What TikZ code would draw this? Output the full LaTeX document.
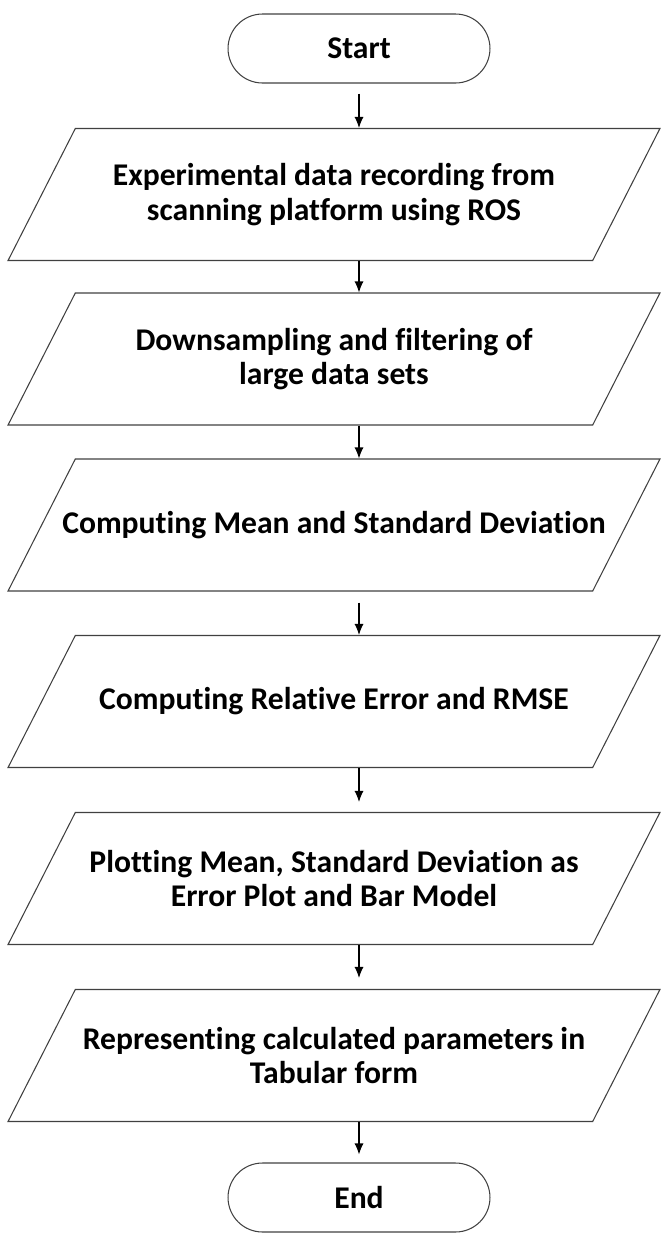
\documentclass[tikz,border=0pt]{standalone}
\usepackage{fontspec}
\setmainfont[Ligatures=NoCommon]{Carlito}
\usetikzlibrary{arrows,arrows.meta,positioning,calc,shapes.geometric}

% text block of a step (fixed height, so the slope stays put)
\newcommand{\steptext}[1]{\parbox[c][2.64cm][c]{11.6cm}{\centering #1}}

\tikzset{
    term/.style={draw=black!75, line width=0.6pt, rounded corners=0.69cm,
        minimum width=5.24cm, minimum height=1.38cm},
    io/.style={trapezium, trapezium left angle=63, trapezium right angle=117,
        draw=black!75, line width=0.6pt, inner ysep=0pt, inner xsep=-0.625cm},
    flow/.style={-{Latex[length=2.2mm,width=1.8mm]}, black, line width=0.6pt}
}

\begin{document}
\begin{tikzpicture}[x=0.02cm, y=-0.02cm, font=\bfseries\fontsize{18}{19.5}\selectfont]
        \useasboundingbox (0,0) rectangle (666,1242);

        % Terminals
        \node[term] (start) at (359,48.5) {Start};
        \node[term] (stop) at (359,1197.5) {End};

        % Steps
        \node[io] (record) at (334,194.5) {\steptext{Experimental data recording from\\scanning platform using ROS}};
        \node[io] (filter) at (334,359) {\steptext{Downsampling and filtering of\\large data sets}};
        \node[io] (stats) at (334,525) {\steptext{Computing Mean and Standard Deviation}};
        \node[io] (error) at (334,701.5) {\steptext{Computing Relative Error and RMSE}};
        \node[io] (plot) at (334,878.5) {\steptext{Plotting Mean, Standard Deviation as\\Error Plot and Bar Model}};
        \node[io] (table) at (334,1055.5) {\steptext{Representing calculated parameters in\\Tabular form}};

        % Arrows
        \draw[flow, shorten <=0.2cm] (start) -- (record.north -| start);
        \draw[flow] (record.south -| start) -- (filter.north -| start);
        \draw[flow] (filter.south -| start) -- (stats.north -| start);
        \draw[flow, shorten <=0.22cm] (stats.south -| start) -- (error.north -| start);
        \draw[flow, shorten >=0.2cm] (error.south -| start) -- (plot.north -| start);
        \draw[flow, shorten >=0.22cm] (plot.south -| start) -- (table.north -| start);
        \draw[flow, shorten >=0.16cm] (table.south -| start) -- (stop);
\end{tikzpicture}
\end{document}
